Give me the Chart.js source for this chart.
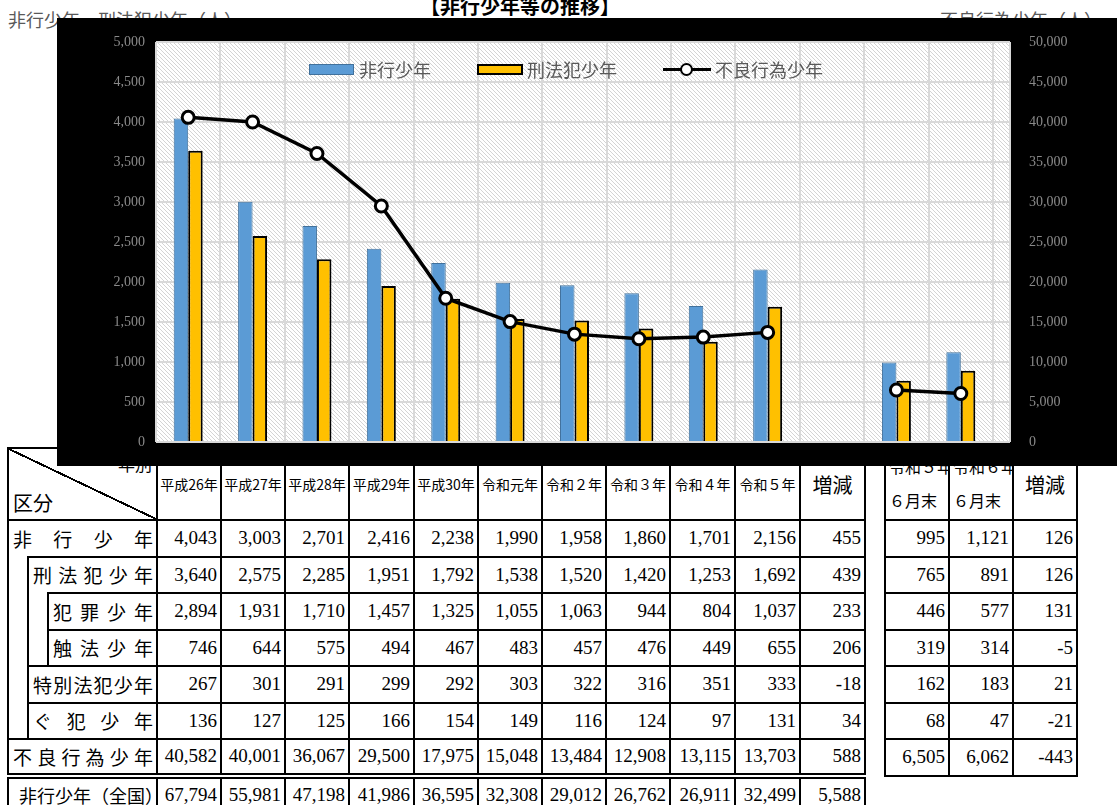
<!DOCTYPE html>
<html lang="ja">
<head>
<meta charset="utf-8">
<script src="https://cdn.jsdelivr.net/npm/chart.js@4.4.1/dist/chart.umd.min.js"></script>
<style>
body { margin:0; width:1117px; height:805px; overflow:hidden; background:#fff; position:relative; font-family:"Liberation Serif","Noto Sans CJK JP",serif; }
#titel { position:absolute; left:420px; top:-9px; line-height:26px; font:bold 20px "Noto Sans CJK JP"; color:#000; }
.achse { position:absolute; top:6px; line-height:24px; font:18px "Noto Sans CJK JP"; color:#595959; }
#box { position:absolute; left:57px; top:18px; width:1060px; height:448px; background:#000; z-index:2; }
#legende { position:absolute; top:59px; left:0; height:20px; z-index:3; font:18px "Noto Sans CJK JP"; color:#595959; }
#legende div { position:absolute; top:0; line-height:20px; white-space:nowrap; }
.kasten { height:9px; top:5px !important; }
table { position:absolute; border-collapse:collapse; table-layout:fixed; top:447px; }
td { border:2px solid #000; padding:0; overflow:hidden; white-space:nowrap; }
td.z { text-align:right; padding-right:3px; font:19px "Liberation Serif"; }
td.lb { text-align:justify; text-align-last:justify; padding:0 3px 0 4px; font:19px "Noto Sans CJK JP"; }
td.lz { padding-left:10px; font:18px "Noto Sans CJK JP"; }
td.leer { border-top:hidden; }
td.kh { text-align:center; font:14px "Noto Sans CJK JP"; }
td.zg { text-align:center; font:20px "Noto Sans CJK JP"; }
td.hk { font:16px "Noto Sans CJK JP"; line-height:34px; padding-left:3px; vertical-align:top; }
td.diag { position:relative; background:linear-gradient(to top right, transparent calc(50% - 1px), #000 calc(50% - 1px), #000 calc(50% + 1px), transparent calc(50% + 1px)); }
td.diag span { position:absolute; font-family:"Noto Sans CJK JP"; }
tr.kopf { height:72px; }
tr.zeile { height:36.5px; }
tr.gz td { border-top:6px double #000; }
</style>
</head>
<body>
<div id="titel">【非行少年等の推移】</div>
<div class="achse" style="left:8px">非行少年・刑法犯少年（人）</div>
<div class="achse" style="left:940px">不良行為少年（人）</div>

<div id="box"><canvas id="chart" width="1060" height="448"></canvas></div>

<div id="legende">
  <div class="kasten" style="left:309px;width:43px;background:#5b9bd5;border:1px solid #41719c"></div>
  <div style="left:359px">非行少年</div>
  <div class="kasten" style="left:477px;width:42px;background:#ffc000;border:2px solid #000;height:7px"></div>
  <div style="left:527px">刑法犯少年</div>
  <div style="left:663px;top:9px;width:48px;height:3px;background:#000"></div>
  <div style="left:680px;top:4px;width:9px;height:9px;border:2.5px solid #000;border-radius:50%;background:#fff"></div>
  <div style="left:715px">不良行為少年</div>
</div>

<table id="links" style="left:7px;width:859px"></table>
<table id="rechts" style="left:884px;width:194px"></table>

<script>
// --- Daten ---
const jahre = ["平成26年", "平成27年", "平成28年", "平成29年", "平成30年", "令和元年", "令和２年", "令和３年", "令和４年", "令和５年"];
const halbjahre = ["令和５年６月末", "令和６年６月末"];
const nendo = jahre.concat([""], halbjahre);

const hikoShonen = [4043, 3003, 2701, 2416, 2238, 1990, 1958, 1860, 1701, 2156, null, 995, 1121];
const keihoShonen = [3640, 2575, 2285, 1951, 1792, 1538, 1520, 1420, 1253, 1692, null, 765, 891];
const furyoShonen = [40582, 40001, 36067, 29500, 17975, 15048, 13484, 12908, 13115, 13703, null, 6505, 6062];

const hanzai = [2894, 1931, 1710, 1457, 1325, 1055, 1063, 944, 804, 1037];
const shokuho = [746, 644, 575, 494, 467, 483, 457, 476, 449, 655];
const tokubetsu = [267, 301, 291, 299, 292, 303, 322, 316, 351, 333];
const guhan = [136, 127, 125, 166, 154, 149, 116, 124, 97, 131];
const zenkoku = [67794, 55981, 47198, 41986, 36595, 32308, 29012, 26762, 26911, 32499];
const zougen = [455, 439, 233, 206, -18, 34, 588, 5588];

const halbHiko = [995, 1121, 126];
const halbKeiho = [765, 891, 126];
const halbHanzai = [446, 577, 131];
const halbShokuho = [319, 314, -5];
const halbTokubetsu = [162, 183, 21];
const halbGuhan = [68, 47, -21];
const halbFuryo = [6505, 6062, -443];

const linksMax = 5000, linksSchritt = 500;
const rechtsMax = 50000, rechtsSchritt = 5000;

// --- Tabelle ---
const fmt = v => v.toLocaleString("en-US");
const zahlen = arr => arr.map(v => `<td class="z">${fmt(v)}</td>`).join("");
const zehn = arr => arr.slice(0, 10);

let colsL = '<colgroup><col style="width:20px"><col style="width:20px"><col style="width:109px">';
[64, 64, 64, 65, 64, 64, 64, 64, 65, 65, 65].forEach(w => colsL += `<col style="width:${w}px">`);
colsL += "</colgroup>";

document.getElementById("links").innerHTML = colsL + `
<tr class="kopf"><td colspan="3" class="diag"><span style="top:2px;right:4px;font-size:17px">年別</span><span style="bottom:2px;left:4px;font-size:20px">区分</span></td>${jahre.map(j => `<td class="kh">${j}</td>`).join("")}<td class="zg">増減</td></tr>
<tr class="zeile"><td colspan="3" class="lb">非行少年</td>${zahlen(zehn(hikoShonen))}<td class="z">${fmt(zougen[0])}</td></tr>
<tr class="zeile"><td rowspan="5" class="leer"></td><td colspan="2" class="lb">刑法犯少年</td>${zahlen(zehn(keihoShonen))}<td class="z">${fmt(zougen[1])}</td></tr>
<tr class="zeile"><td rowspan="2" class="leer"></td><td class="lb">犯罪少年</td>${zahlen(hanzai)}<td class="z">${fmt(zougen[2])}</td></tr>
<tr class="zeile"><td class="lb">触法少年</td>${zahlen(shokuho)}<td class="z">${fmt(zougen[3])}</td></tr>
<tr class="zeile"><td colspan="2" class="lb">特別法犯少年</td>${zahlen(tokubetsu)}<td class="z">${fmt(zougen[4])}</td></tr>
<tr class="zeile"><td colspan="2" class="lb">ぐ犯少年</td>${zahlen(guhan)}<td class="z">${fmt(zougen[5])}</td></tr>
<tr class="zeile"><td colspan="3" class="lb">不良行為少年</td>${zahlen(zehn(furyoShonen))}<td class="z">${fmt(zougen[6])}</td></tr>
<tr class="zeile gz"><td colspan="3" class="lz">非行少年（全国）</td>${zahlen(zenkoku)}<td class="z">${fmt(zougen[7])}</td></tr>`;

document.getElementById("rechts").innerHTML = `
<colgroup><col style="width:64px"><col style="width:64px"><col style="width:64px"></colgroup>
<tr class="kopf"><td class="hk">令和５年<br>６月末</td><td class="hk">令和６年<br>６月末</td><td class="zg">増減</td></tr>
${[halbHiko, halbKeiho, halbHanzai, halbShokuho, halbTokubetsu, halbGuhan, halbFuryo].map(r => `<tr class="zeile">${zahlen(r)}</tr>`).join("")}`;

// --- Schraffur fuer die Zeichenflaeche ---
const muster = document.createElement("canvas");
muster.width = 4; muster.height = 4;
const mctx = muster.getContext("2d");
mctx.fillStyle = "#fff";
mctx.fillRect(0, 0, 4, 4);
mctx.strokeStyle = "#d4d4d4";
mctx.lineWidth = 1;
mctx.beginPath();
mctx.moveTo(-1, -1); mctx.lineTo(5, 5);
mctx.moveTo(-1, 3); mctx.lineTo(1, 5);
mctx.moveTo(3, -1); mctx.lineTo(5, 1);
mctx.stroke();

// Zeichenflaeche ragt rechts etwas ueber die letzte Kategorie hinaus
const RAND_RECHTS = 17;
const gitterFarbe = "#d9d9d9";

const hintergrund = {
    id: "hintergrund",
    beforeDraw(chart) {
        const { ctx, chartArea: a } = chart;
        ctx.save();
        ctx.fillStyle = ctx.createPattern(muster, "repeat");
        ctx.fillRect(a.left, a.top, a.width + RAND_RECHTS, a.height);
        ctx.restore();
    },
    beforeDatasetsDraw(chart) {
        const { ctx, chartArea: a, scales } = chart;
        ctx.save();
        ctx.strokeStyle = gitterFarbe;
        ctx.lineWidth = 2;
        ctx.beginPath();
        scales.y.ticks.forEach(t => {
            const y = Math.round(scales.y.getPixelForValue(t.value));
            ctx.moveTo(a.right, y);
            ctx.lineTo(a.right + RAND_RECHTS, y);
        });
        ctx.moveTo(a.right + RAND_RECHTS, a.top);
        ctx.lineTo(a.right + RAND_RECHTS, a.bottom);
        ctx.stroke();
        ctx.restore();
    }
};

// --- Chart ---
const tickFont = { family: "Liberation Serif", size: 14 };

new Chart(document.getElementById("chart"), {
    data: {
        labels: nendo,
        datasets: [
            {
                type: "line", label: "不良行為少年", data: furyoShonen, yAxisID: "y2",
                borderColor: "#000", borderWidth: 3.5, spanGaps: false,
                pointRadius: 6, pointBackgroundColor: "#fff", pointBorderColor: "#000", pointBorderWidth: 3,
                order: 0
            },
            {
                type: "bar", label: "非行少年", data: hikoShonen, yAxisID: "y",
                backgroundColor: "#5b9bd5", borderColor: "#41719c", borderWidth: 1,
                categoryPercentage: 0.45, barPercentage: 1, order: 1
            },
            {
                type: "bar", label: "刑法犯少年", data: keihoShonen, yAxisID: "y",
                backgroundColor: "#ffc000", borderColor: "#000", borderWidth: 2,
                categoryPercentage: 0.45, barPercentage: 1, order: 1
            }
        ]
    },
    options: {
        responsive: false,
        animation: false,
        layout: { padding: { top: 24, left: 0, right: 0, bottom: 0 } },
        plugins: { legend: { display: false }, tooltip: { enabled: false } },
        scales: {
            x: {
                offset: true,
                grid: { offset: true, color: gitterFarbe, lineWidth: 2, drawTicks: false },
                border: { display: false },
                ticks: { display: false },
                afterFit: s => { s.height = 24; }
            },
            y: {
                position: "left", min: 0, max: linksMax,
                grid: { color: gitterFarbe, lineWidth: 2, drawTicks: false },
                border: { display: false },
                ticks: { stepSize: linksSchritt, color: "#8a8a8a", font: tickFont, padding: 11, callback: v => fmt(v) },
                afterFit: s => { s.width = 99; }
            },
            y2: {
                position: "right", min: 0, max: rechtsMax,
                grid: { display: false },
                border: { display: false },
                ticks: { stepSize: rechtsSchritt, color: "#8a8a8a", font: tickFont, padding: 11 + RAND_RECHTS, callback: v => fmt(v) },
                afterFit: s => { s.width = 107 + RAND_RECHTS; s.paddingTop = 0; s.paddingBottom = 0; }
            }
        }
    },
    plugins: [hintergrund]
});
</script>
</body>
</html>
